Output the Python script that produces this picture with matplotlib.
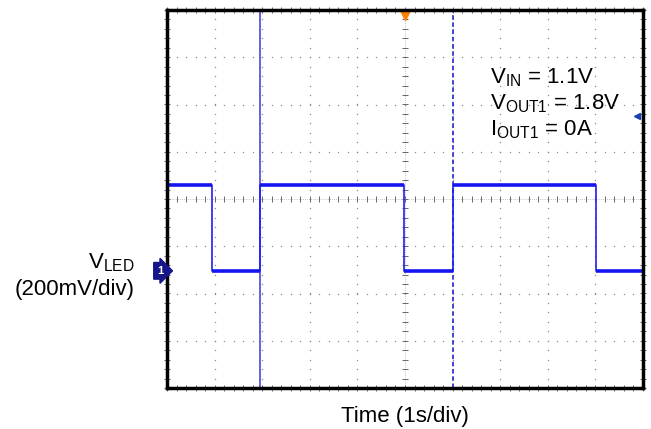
import matplotlib
matplotlib.use("Agg")
import matplotlib.pyplot as plt
import matplotlib.transforms as mtransforms
import numpy as np

plt.rcParams['font.family'] = ['Liberation Sans', 'DejaVu Sans']
plt.rcParams['mathtext.fontset'] = 'custom'
plt.rcParams['mathtext.rm'] = 'Liberation Sans'

# waveform, in divisions (x: 10 div of 1 s, y: 8 div of 200 mV, 0 = screen centre)
edge_times = [0.0, 0.95, 0.95, 1.96, 1.96, 4.97, 4.97, 6.01, 6.01, 9.01, 9.01, 10.0]
edge_levels = [0.30, 0.30, -1.52, -1.52, 0.30, 0.30, -1.52, -1.52, 0.30, 0.30, -1.52, -1.52]
ground_level = -1.52
cursor_solid = 1.96
cursor_dashed = 6.01
trigger_pos = 5.0
trig_level = 1.76

annot_lines = [r'$\mathrm{V_{IN}}$ = 1.1V', r'$\mathrm{V_{OUT1}}$ = 1.8V', r'$\mathrm{I_{OUT1}}$ = 0A']

fig = plt.figure(figsize=(6.51, 4.29), dpi=100)
ax = fig.add_axes([167/651, 41/429, 476/651, 378/429])
ax.set_xlim(0, 10)
ax.set_ylim(-4, 4)
ax.set_xticks([])
ax.set_yticks([])

# dotted graticule
fine_x = np.arange(0, 10.01, 0.2)
fine_y = np.arange(-4, 4.01, 0.2)
for gx in range(1, 10):
    if gx == 5:
        continue
    ax.plot(np.full_like(fine_y, gx), fine_y, ls='none', marker='s', ms=0.9, mew=0, color='#8c8c8c')
for gy in range(-3, 4):
    if gy == 0:
        continue
    ax.plot(fine_x, np.full_like(fine_x, gy), ls='none', marker='s', ms=0.9, mew=0, color='#8c8c8c')

# centre crosshair with minor ticks
ax.axhline(0, color='#b0b0b0', lw=0.6, ls=(0, (1, 1.5)))
ax.axvline(5, color='#b0b0b0', lw=0.6, ls=(0, (1, 1.5)))
ax.plot(fine_x, np.zeros_like(fine_x), ls='none', marker='|', ms=4, mew=0.7, color='#666666')
ax.plot(np.full_like(fine_y, 5), fine_y, ls='none', marker='_', ms=4, mew=0.7, color='#666666')

# edge ticks
ax.plot(fine_x, np.full_like(fine_x, 4), ls='none', marker='|', ms=4, mew=0.7, color='#666666', clip_on=False)
ax.plot(fine_x, np.full_like(fine_x, -4), ls='none', marker='|', ms=4, mew=0.7, color='#666666', clip_on=False)
ax.plot(np.zeros_like(fine_y), fine_y, ls='none', marker='_', ms=4, mew=0.7, color='#666666', clip_on=False)
ax.plot(np.full_like(fine_y, 10), fine_y, ls='none', marker='_', ms=4, mew=0.7, color='#666666', clip_on=False)

# cursors
ax.axvline(cursor_solid, color='#4848d8', lw=1.2)
ax.axvline(cursor_dashed, color='#3535d0', lw=1.3, ls=(0, (2.5, 1.5)))

# trace: thin edges, thicker (noisy-looking) flat parts
ax.plot(edge_times, edge_levels, color='#2020f0', lw=1.2)
for i in range(0, len(edge_times) - 1, 2):
    ax.plot(edge_times[i:i + 2], edge_levels[i:i + 2], color='#1515f0', lw=2.6, solid_capstyle='butt')

# markers
ax.plot(trigger_pos, 3.9, marker='v', ms=7, color='#ff7f00', clip_on=False)
ax.plot(9.87, trig_level, marker='<', ms=5, color='#1a3fb0', clip_on=False)

blend = mtransforms.blended_transform_factory(ax.transAxes, ax.transData)
ax.text(-0.008, ground_level, '1', transform=blend, ha='right', va='center',
        color='white', fontsize=8, fontweight='bold',
        bbox=dict(boxstyle='rarrow,pad=0.3', fc='#16168a', ec='#16168a'))

for sp in ax.spines.values():
    sp.set_linewidth(2.5)
    sp.set_color('black')

# annotation
for i, line in enumerate(annot_lines):
    fig.text(490/651, 1 - (83 + 26 * i)/429, line, fontsize=16, ha='left', va='baseline')

fig.text(135/651, 1 - 268/429, r'$\mathrm{V_{LED}}$', fontsize=16, ha='right', va='baseline')
fig.text(135/651, 1 - 295/429, '(200mV/div)', fontsize=16, ha='right', va='baseline')
fig.text(405/651, 1 - 422/429, 'Time (1s/div)', fontsize=16, ha='center', va='baseline')

fig.savefig('out.png', dpi=100)
